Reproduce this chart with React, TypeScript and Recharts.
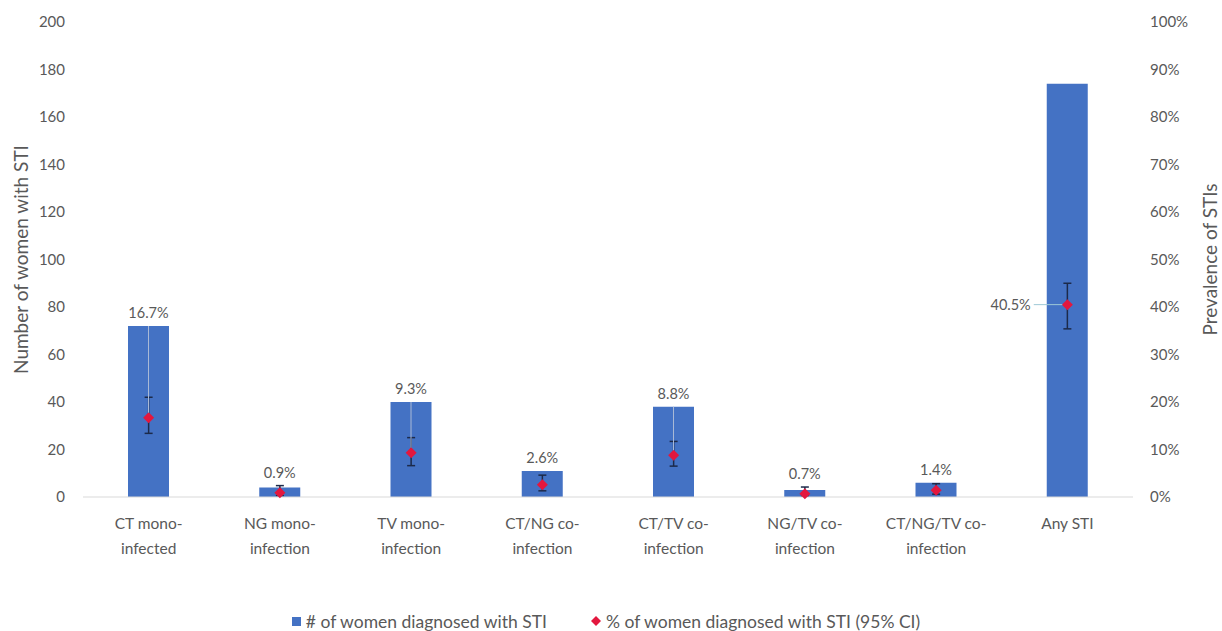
import React from 'react';
import {
  ComposedChart,
  Bar,
  Scatter,
  ErrorBar,
  XAxis,
  YAxis,
  Legend,
  LabelList,
} from 'recharts';

const categories = [
  'CT mono-\ninfected',
  'NG mono-\ninfection',
  'TV mono-\ninfection',
  'CT/NG co-\ninfection',
  'CT/TV co-\ninfection',
  'NG/TV co-\ninfection',
  'CT/NG/TV co-\ninfection',
  'Any STI',
];
const counts = [72, 4, 40, 11, 38, 3, 6, 174];
const prevalence = [16.7, 0.9, 9.3, 2.6, 8.8, 0.7, 1.4, 40.5];
const ciLow = [13.4, 0.3, 6.6, 1.3, 6.5, 0.2, 0.6, 35.4];
const ciHigh = [21.0, 2.4, 12.5, 4.6, 11.7, 2.1, 2.8, 45.0];
const leftTicks = [0, 20, 40, 60, 80, 100, 120, 140, 160, 180, 200];
const rightTicks = [0, 10, 20, 30, 40, 50, 60, 70, 80, 90, 100];

const FONT = 'Lato, "Open Sans", sans-serif';
const GRAY = '#595959';
const BLUE = '#4472C4';
const RED = '#E3173E';

const data = categories.map((name, i) => ({
  name,
  count: counts[i],
  pct: prevalence[i],
  ci: [prevalence[i] - ciLow[i], ciHigh[i] - prevalence[i]],
}));

const CategoryTick = (props: any) => {
  const { x, y, payload } = props;
  const lines = String(payload.value).split('\n');
  return (
    <g transform={`translate(${x},${y})`}>
      {lines.map((t, i) => (
        <text key={i} x={0} y={24 + i * 25} textAnchor="middle" fill={GRAY} fontSize={15.5} fontFamily={FONT}>
          {t}
        </text>
      ))}
    </g>
  );
};

// percentage label above each bar, with a leader line down to the point
const PctLabel = (props: any) => {
  const { x, y, width, height, index } = props;
  const cx = x + width / 2;
  const base = y + height;
  const pxPerUnit = height / counts[index];
  // right axis 0-100% shares the pixel range of left axis 0-200
  const toY = (p: number) => base - p * 2 * pxPerUnit;
  const py = toY(prevalence[index]);
  const capY = toY(ciHigh[index]);
  const text = `${prevalence[index]}%`;
  if (index === categories.length - 1) {
    return (
      <g>
        <line x1={x - 13} y1={py} x2={cx - 5} y2={py} stroke="#9ec9d6" strokeWidth={1} />
        <text x={x - 16} y={py + 5} textAnchor="end" fill={GRAY} fontSize={14.5} fontFamily={FONT}>
          {text}
        </text>
      </g>
    );
  }
  const ly = Math.min(y, capY) - 13;
  const showLeader = py - ly > 40;
  return (
    <g>
      {showLeader && (
        <line x1={cx} y1={y} x2={cx} y2={py - 5} stroke="#a9b9d6" strokeWidth={1} />
      )}
      <text x={cx} y={ly + 5} textAnchor="middle" fill={GRAY} fontSize={14.5} fontFamily={FONT}>
        {text}
      </text>
    </g>
  );
};

const Diamond = (props: any) => {
  const { cx, cy } = props;
  const r = 5.5;
  return <polygon points={`${cx},${cy - r} ${cx + r},${cy} ${cx},${cy + r} ${cx - r},${cy}`} fill={RED} />;
};

const LegendContent = () => (
  <div
    style={{
      display: 'flex',
      justifyContent: 'center',
      alignItems: 'center',
      gap: 44,
      height: 20,
      fontFamily: FONT,
      fontSize: 17.5,
      color: GRAY,
      paddingRight: 10,
    }}
  >
    <span style={{ display: 'flex', alignItems: 'center', gap: 5 }}>
      <svg width={9} height={9}>
        <rect width={9} height={9} fill={BLUE} />
      </svg>
      # of women diagnosed with STI
    </span>
    <span style={{ display: 'flex', alignItems: 'center', gap: 5 }}>
      <svg width={10} height={10}>
        <polygon points="5,0 10,5 5,10 0,5" fill={RED} />
      </svg>
      % of women diagnosed with STI (95% CI)
    </span>
  </div>
);

export default function App() {
  return (
    <div style={{ position: 'absolute', left: 0, top: 0, background: '#fff' }}>
      <ComposedChart
        width={1222}
        height={631}
        data={data}
        margin={{ top: 22, right: 0, bottom: 0, left: 0 }}
      >
        <XAxis
          dataKey="name"
          interval={0}
          tickLine={false}
          axisLine={{ stroke: '#d9d9d9' }}
          height={114}
          tick={<CategoryTick />}
        />
        <YAxis
          yAxisId="left"
          domain={[0, 200]}
          ticks={leftTicks}
          width={83}
          axisLine={false}
          tickLine={false}
          tickMargin={12}
          tick={{ fill: GRAY, fontSize: 15, fontFamily: FONT }}
          label={{
            value: 'Number of women with STI',
            angle: -90,
            position: 'insideLeft',
            offset: 21,
            style: { textAnchor: 'middle', fill: GRAY, fontSize: 19, fontFamily: FONT },
          }}
        />
        <YAxis
          yAxisId="right"
          orientation="right"
          domain={[0, 100]}
          ticks={rightTicks}
          width={89}
          axisLine={false}
          tickLine={false}
          tickMargin={11}
          tickFormatter={(v) => `${v}%`}
          tick={{ fill: GRAY, fontSize: 15, fontFamily: FONT }}
          label={{
            value: 'Prevalence of STIs',
            angle: -90,
            position: 'insideRight',
            offset: 12,
            style: { textAnchor: 'middle', fill: GRAY, fontSize: 19, fontFamily: FONT },
          }}
        />
        <Legend verticalAlign="bottom" content={<LegendContent />} />
        <Bar yAxisId="left" dataKey="count" fill={BLUE} barSize={41} isAnimationActive={false}>
          <LabelList dataKey="pct" content={<PctLabel />} />
        </Bar>
        <Scatter yAxisId="right" dataKey="pct" shape={<Diamond />} isAnimationActive={false}>
          <ErrorBar dataKey="ci" direction="y" width={4} stroke="#1c2a4a" strokeWidth={1.5} isAnimationActive={false} />
        </Scatter>
      </ComposedChart>
    </div>
  );
}
